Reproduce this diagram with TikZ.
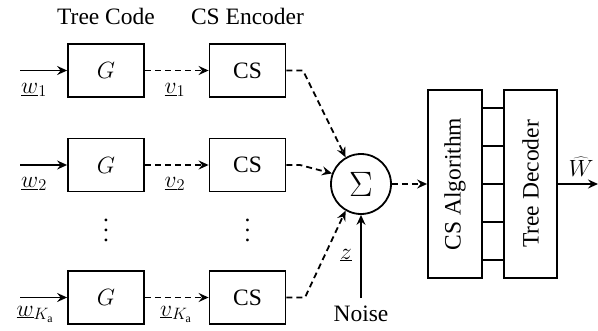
\RequirePackage{fix-cm}
\documentclass[tikz,border=0pt]{standalone}
\usepackage{fontspec}
\setmainfont{Liberation Serif}
\usetikzlibrary{arrows.meta}
\newcommand{\myvdots}{\vbox{\baselineskip=10pt\lineskiplimit=0pt\hbox{.}\hbox{.}\hbox{.}}}
\begin{document}
\begin{tikzpicture}[x=1pt,y=-1pt,
  every node/.style={font=\fontsize{23.5}{28}\selectfont},
  lw/.style={line width=1.8pt},
  arr/.style={lw,-{Stealth[length=10pt,width=9pt,inset=3.5pt]}},
  darr/.style={arr,dash pattern=on 6pt off 4pt},
  blk/.style={draw,lw,minimum width=76pt,minimum height=53pt,inner sep=0pt},
  tall/.style={draw,lw,minimum width=54pt,minimum height=188pt,inner sep=0pt},
  lbl/.style={inner sep=0pt}]
\useasboundingbox (0,0) rectangle (598,330);
% top labels
\node[lbl] (tc) at (106,16) {Tree Code};
\node[lbl] (cse) at (247.5,16) {CS Encoder};
% boxes
\node[blk] (g1) at (106,70.5) {$G$};
\node[blk] (g2) at (106,165) {$G$};
\node[blk] (g3) at (106,297.5) {$G$};
\node[blk] (c1) at (247.5,70.5) {CS};
\node[blk] (c2) at (247.5,165) {CS};
\node[blk] (c3) at (247.5,297.5) {CS};
\node[lbl] (d1) at (106,230) {\myvdots};
\node[lbl] (d2) at (247.5,230) {\myvdots};
% inputs
\coordinate (i1) at (20,70.5);
\coordinate (i2) at (20,165);
\coordinate (i3) at (20,297.5);
\draw[arr] (i1) -- (g1.west);
\draw[arr] (i2) -- (g2.west);
\draw[arr] (i3) -- (g3.west);
\node[lbl] (w1) at (34,90) {$\underline{w}_1$};
\node[lbl] (w2) at (34,184) {$\underline{w}_2$};
\node[lbl] (w3) at (35,314) {$\underline{w}_{K_\mathrm{a}}$};
\draw[darr] (g1.east) -- (c1.west);
\draw[darr] (g2.east) -- (c2.west);
\draw[darr] (g3.east) -- (c3.west);
\node[lbl] (v1) at (175,90) {$\underline{v}_1$};
\node[lbl] (v2) at (175,184) {$\underline{v}_2$};
\node[lbl] (v3) at (176,314) {$\underline{v}_{K_\mathrm{a}}$};
% sum
\node[draw,lw,circle,minimum size=60pt,inner sep=0pt] (s) at (361,184) {\scalebox{1.5}{$\Sigma$}};
\coordinate (b1) at (303,70.5);
\coordinate (b2) at (300,165);
\coordinate (b3) at (305,297.5);
\draw[darr] (c1.east) -- (b1) -- (s.120);
\draw[darr] (c2.east) -- (b2) -- (s.160);
\draw[darr] (c3.east) -- (b3) -- (s.240);
\node[lbl] (z) at (346,255) {$\underline{z}$};
\node[lbl,anchor=north] (noise) at (361,306) {Noise};
\draw[arr] ([yshift=8pt]noise.north) -- (s.south);
% decoder
\node[tall] (csa) at (455,184) {\rotatebox{90}{CS Algorithm}};
\node[tall,minimum width=53pt] (td) at (530.5,184) {\rotatebox{90}{Tree Decoder}};
\draw[darr] (s.east) -- (csa.west);
\foreach \k/\yy in {1/-76,2/-38,3/0,4/38,5/76}{
  \draw[lw] ([yshift=\yy*1pt]csa.east) -- ([yshift=\yy*1pt]td.west);
}
\coordinate (out) at (598,184);
\draw[arr] (td.east) -- (out);
\node[lbl] (wh) at (581,167) {$\widehat{W}$};
\end{tikzpicture}
\end{document}
